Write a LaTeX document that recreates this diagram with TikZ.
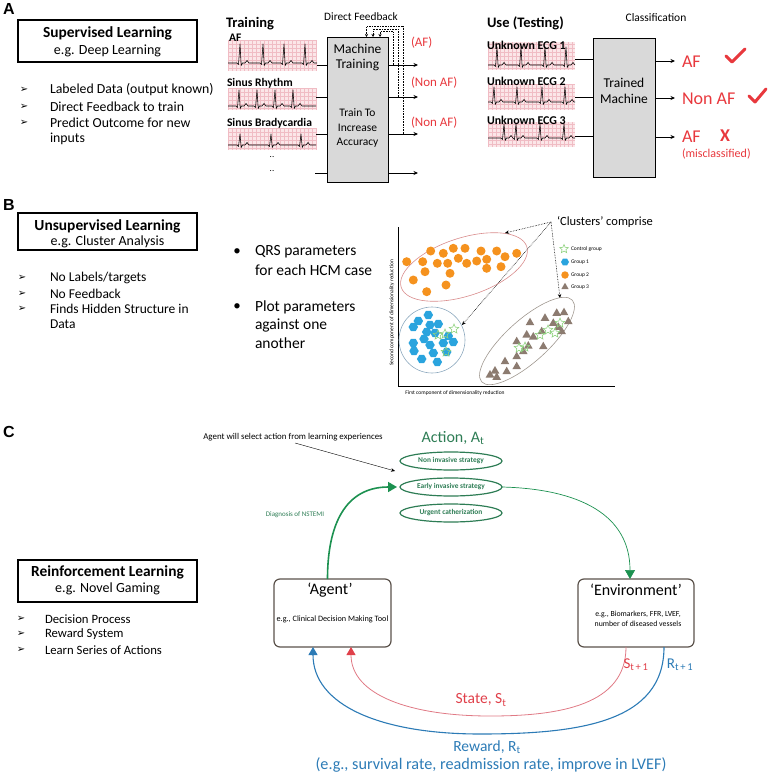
\documentclass[tikz,border=0pt]{standalone}
\usepackage{fontspec}
\setmainfont{Carlito}
\newfontfamily\arialf{Liberation Sans}
\newfontfamily\dejavu{DejaVu Sans}
\usetikzlibrary{shapes.geometric,arrows.meta,calc}
\newcommand\fsz[2]{\fontsize{#1}{#2}\selectfont}
\definecolor{redA}{HTML}{E8383D}
\definecolor{grayfill}{HTML}{D9D9D9}
\definecolor{ecgpink}{HTML}{FBE6E8}
\definecolor{ecggridc}{HTML}{F0BCC4}
\definecolor{orangeD}{HTML}{F5921E}
\definecolor{blueD}{HTML}{2AA4DE}
\definecolor{triG}{HTML}{8C7B70}
\definecolor{starG}{HTML}{8FD27F}
\definecolor{pinkE}{HTML}{D98C8C}
\definecolor{blueE}{HTML}{8EA9BF}
\definecolor{grayE}{HTML}{A09890}
\definecolor{greenT}{HTML}{2E7D55}
\definecolor{greenA}{HTML}{1C9150}
\definecolor{redC}{HTML}{E0404A}
\definecolor{redArc}{HTML}{E07A85}
\definecolor{blueC}{HTML}{2C7BB6}
\definecolor{boxC}{HTML}{5B524B}
\newcommand\ecgstrip[4]{\fill[ecgpink] (#1,#2) rectangle (#3,#4);
  \draw[ecggridc,line width=0.25pt] (#1,#2) grid[step=4pt] (#3,#4);}
\newcommand\ecgtrace[5]{\draw[ecgline] (#1,#3) \foreach \s in {#5}{ -- (\s-3,#3) -- (\s-1.5,#3+1.5) -- (\s,#3-#4) -- (\s+1.2,#3+2.5) -- (\s+2.5,#3) -- (\s+5,#3) -- (\s+7,#3-2.5) -- (\s+9,#3)} -- (#2,#3);}
\begin{document}
\begin{tikzpicture}[x=1pt,y=-1pt,
 every node/.style={inner sep=0pt,outer sep=0pt},
 panelbox/.style={draw,line width=1.5pt,minimum width=179pt,minimum height=42pt},
 ttl/.style={font=\fsz{15.4}{18}\bfseries},
 subt/.style={font=\fsz{14}{16}},
 bul/.style={font=\dejavu\fsz{10}{12}},
 btxt/.style={anchor=west,font=\fsz{13.8}{16}},
 btxtb/.style={anchor=west,font=\fsz{13.5}{15}},
 btxtc/.style={anchor=west,font=\fsz{12.7}{15}},
 plabel/.style={font=\arialf\bfseries\fsz{16}{18}},
 mbox/.style={draw,fill=grayfill,line width=0.8pt},
 mtxt/.style={font=\fsz{13.5}{16}},
 mtxs/.style={font=\fsz{11.5}{13}},
 ecglbl/.style={anchor=west,font=\bfseries\fsz{11.6}{13}},
 ecgline/.style={black,line width=0.55pt,line join=round},
 thinline/.style={black,line width=0.8pt},
 outarrow/.style={black,line width=0.8pt,-{Stealth[length=4.5pt,width=4pt]}},
 fbarrow/.style={black,line width=0.6pt,densely dotted,-{Stealth[length=3pt,width=3pt]}},
 redlbl/.style={anchor=west,text=redA,font=\fsz{13}{15}},
 bigred/.style={anchor=west,text=redA,font=\fsz{18}{20}},
 checkm/.style={redA,line width=3pt,line join=round,line cap=round},
 odot/.style={circle,fill=orangeD,minimum size=9pt},
 hdot/.style={regular polygon,regular polygon sides=6,fill=blueD,minimum size=9.5pt},
 tdot/.style={regular polygon,regular polygon sides=3,fill=triG,minimum size=10pt},
 sdot/.style={star,star points=5,star point ratio=2.2,draw=starG,line width=0.6pt,minimum size=10pt},
 legtxt/.style={anchor=west,font=\fsz{5.5}{6}},
 clarrow/.style={black,line width=0.6pt,densely dotted,-{Stealth[length=4pt,width=3.5pt]}},
 actell/.style={ellipse,draw=greenT,line width=1.2pt,minimum width=102pt,minimum height=18pt,text=greenT,font=\bfseries\fsz{7.4}{8}},
 rlbox/.style={draw=boxC,line width=1.2pt,rounded corners=6pt,minimum width=117pt,minimum height=68pt}
]
\useasboundingbox (0,0) rectangle (770,776);

% ================= Panel A =================
\node[plabel] (labA) at (9,9) {A};
\node[panelbox] (boxA) at (107.5,41) {};
\node[ttl] (ttlA) at (107.5,33) {Supervised Learning};
\node[subt] (subA) at (107.5,51) {e.g. Deep Learning};
\node[bul] (bA1) at (24,90) {➢};  \node[btxt] (tA1) at (50,90) {Labeled Data (output known)};
\node[bul] (bA2) at (24,107) {➢}; \node[btxt] (tA2) at (50,107) {Direct Feedback to train};
\node[bul] (bA3) at (24,123) {➢}; \node[btxt] (tA3) at (50,123) {Predict Outcome for new};
\node[btxt] (tA4) at (50,139) {inputs};

\node[anchor=west,font=\bfseries\fsz{14.5}{16}] (trn) at (226,24) {Training};
\ecgstrip{228}{40}{317}{71}
\ecgtrace{228}{317}{63}{19}{240,263,284,305}
\node[ecglbl] (ecgAF) at (229,38) {AF};
\ecgstrip{228}{88}{316}{110}
\ecgtrace{228}{316}{106}{16}{239,257,275,293}
\node[ecglbl] (ecgSR) at (227,83) {Sinus Rhythm};
\ecgstrip{228}{128}{316}{150}
\ecgtrace{228}{316}{145}{11}{240,271,301}
\node[ecglbl] (ecgSB) at (227,123) {Sinus Bradycardia};
\node[font=\fsz{9}{10}] (dd1) at (272,157) {..};
\node[font=\fsz{9}{10}] (dd2) at (272,171) {..};

\node[mbox,minimum width=61pt,minimum height=145pt] (mach) at (357.5,109.5) {};
\node[mtxt] (mt1) at (357.5,49) {Machine};
\node[mtxt] (mt2) at (357.5,65) {Training};
\node[mtxs] (mt3) at (357.5,113) {Train To};
\node[mtxs] (mt4) at (357.5,128) {Increase};
\node[mtxs] (mt5) at (357.5,143) {Accuracy};

\coordinate (inA1) at (317,65);  \draw[thinline] (inA1) -- (inA1 -| mach.west);
\coordinate (inA2) at (316,97);  \draw[thinline] (inA2) -- (inA2 -| mach.west);
\coordinate (inA3) at (316,134); \draw[thinline] (inA3) -- (inA3 -| mach.west);
\coordinate (inA4) at (315,173); \draw[thinline] (inA4) -- (inA4 -| mach.west);
\coordinate (outA1) at (418,65);  \draw[outarrow] (outA1 -| mach.east) -- (outA1);
\coordinate (outA2) at (418,97);  \draw[outarrow] (outA2 -| mach.east) -- (outA2);
\coordinate (outA3) at (418,134); \draw[outarrow] (outA3 -| mach.east) -- (outA3);
\coordinate (outA4) at (418,173); \draw[outarrow] (outA4 -| mach.east) -- (outA4);
\node[redlbl] (pAF) at (411,43) {(AF)};
\node[redlbl] (pN1) at (411,83) {(Non AF)};
\node[redlbl] (pN2) at (411,123) {(Non AF)};

\node[font=\fsz{11.3}{13}] (dfb) at (361,17) {Direct Feedback};
\coordinate (fbs1) at (393,65);  \coordinate (fbe1) at (380,37);
\coordinate (fbs2) at (398,97);  \coordinate (fbe2) at (373,37);
\coordinate (fbs3) at (403,134); \coordinate (fbe3) at (366.5,37);
\draw[fbarrow] (fbs1) -- (393,31.7) -- (380,31.7) -- (fbe1);
\draw[fbarrow] (fbs2) -- (398,29.3) -- (373,29.3) -- (fbe2);
\draw[fbarrow] (fbs3) -- (403,26.8) -- (366.5,26.8) -- (fbe3);

\node[anchor=west,font=\bfseries\fsz{14.5}{16}] (use) at (487,23) {Use (Testing)};
\node[font=\fsz{11.5}{13}] (cls) at (656,18) {Classification};
\ecgstrip{488}{42}{575}{70}
\ecgtrace{488}{575}{65}{18}{497,521,545,566}
\node[ecglbl,font=\bfseries\fsz{11.9}{13}] (u1) at (487,45) {Unknown ECG 1};
\ecgstrip{488}{84}{575}{110}
\ecgtrace{488}{575}{102}{15}{494,517,542,565}
\node[ecglbl,font=\bfseries\fsz{11.9}{13}] (u2) at (487,81) {Unknown ECG 2};
\ecgstrip{488}{122}{575}{147}
\ecgtrace{488}{575}{138}{14}{504,516,540,564}
\node[ecglbl,font=\bfseries\fsz{11.9}{13}] (u3) at (487,120) {Unknown ECG 3};

\node[mbox,minimum width=62pt,minimum height=139pt] (tmach) at (624,107.5) {};
\node[mtxt] (tm1) at (624,83) {Trained};
\node[mtxt] (tm2) at (624,99) {Machine};
\coordinate (inB1) at (575,59);  \draw[thinline] (inB1) -- (inB1 -| tmach.west);
\coordinate (inB2) at (575,97);  \draw[thinline] (inB2) -- (inB2 -| tmach.west);
\coordinate (inB3) at (575,136); \draw[thinline] (inB3) -- (inB3 -| tmach.west);
\coordinate (outB1) at (675,61);  \draw[outarrow] (outB1 -| tmach.east) -- (outB1);
\coordinate (outB2) at (675,98);  \draw[outarrow] (outB2 -| tmach.east) -- (outB2);
\coordinate (outB3) at (675,137); \draw[outarrow] (outB3 -| tmach.east) -- (outB3);
\node[bigred] (rAF1) at (682,62) {AF};
\node[bigred] (rN) at (682,99) {Non AF};
\node[bigred] (rAF2) at (682,137) {AF};
\node[text=redA,font=\bfseries\fsz{18}{20}] (xm) at (725,136) {X};
\node[redlbl,font=\fsz{12}{14}] (mis) at (682,154) {(misclassified)};
\draw[checkm] (726,56) -- (732,62) -- (745,49);
\draw[checkm] (749,96) -- (755,102) -- (766,89);

% ================= Panel B =================
\node[plabel] (labB) at (9,205) {B};
\node[panelbox,minimum height=37pt] (boxB) at (107.5,231.5) {};
\node[ttl] (ttlB) at (107.5,226) {Unsupervised Learning};
\node[subt] (subB) at (107.5,242) {e.g. Cluster Analysis};
\node[bul] (bB1) at (22,278) {➢}; \node[btxtb] (tB1) at (50,278) {No Labels/targets};
\node[bul] (bB2) at (22,294) {➢}; \node[btxtb] (tB2) at (50,294) {No Feedback};
\node[bul] (bB3) at (22,309) {➢}; \node[btxtb] (tB3) at (50,309) {Finds Hidden Structure in};
\node[btxtb] (tB4) at (50,324) {Data};

\node[font=\fsz{15}{17}] (dot1) at (237,252) {•};
\node[font=\fsz{15}{17}] (dot2) at (237,307) {•};
\node[anchor=west,font=\fsz{15.5}{18}] (q1) at (255,252) {QRS parameters};
\node[anchor=west,font=\fsz{15.5}{18}] (q2) at (255,270) {for each HCM case};
\node[anchor=west,font=\fsz{15.5}{18}] (q3) at (255,307) {Plot parameters};
\node[anchor=west,font=\fsz{15.5}{18}] (q4) at (255,325) {against one};
\node[anchor=west,font=\fsz{15.5}{18}] (q5) at (255,343) {another};

\coordinate (ax0) at (398,386); \coordinate (axy) at (398,227); \coordinate (axx) at (615,386);
\draw[black,line width=0.5pt] (axy) -- (ax0) -- (axx);
\node[rotate=90,font=\fsz{5.5}{6}] (ylab) at (392,313) {Second component of dimensionality reduction};
\node[font=\fsz{5.5}{6}] (xlab) at (455,393) {First component of dimensionality reduction};

\node[draw=pinkE,line width=0.6pt,ellipse,minimum width=132pt,minimum height=58pt,rotate=18] (ellO) at (464,267) {};
\node[draw=blueE,line width=0.6pt,circle,minimum size=66pt] (ellB) at (432,340) {};
\node[draw=grayE,line width=0.6pt,ellipse,minimum width=122pt,minimum height=42pt,rotate=42] (ellG) at (527,341) {};

\foreach \x/\y [count=\i] in {406.7/261.7, 422.7/261.7, 430.7/251, 443.3/253.3, 453.3/248.3, 465/248.3, 481/251, 496.7/251, 516.7/253.3, 437.3/263.3, 447.7/263.3, 458.3/258.3, 466.7/263.3, 476.7/261, 486.7/259.3, 505/256.7, 486.7/268.3, 501/266.7, 425/271.7, 450/273.3, 413.3/280, 446/285, 426.7/291.7}
  \node[odot] (or\i) at (\x,\y) {};
\foreach \x/\y [count=\i] in {428.3/315, 418.3/321, 413.3/327, 430/325, 438.3/324, 426.7/332, 435/333, 448.3/336, 424/339, 413.3/343, 414/351, 430/345, 433.3/353, 443.3/343, 453.3/342, 421.7/359, 437.3/362, 446.7/352}
  \node[hdot] (bh\i) at (\x,\y) {};
\foreach \x/\y [count=\i] in {530/322.7, 545/318.3, 556.7/313.3, 564/312.7, 568.3/321.7, 553.3/323.3, 558.3/327.3, 561.7/331.7, 541.7/331.7, 526.7/335, 533.3/337, 516.7/341.7, 528.3/346, 543.3/346.7, 523.3/351.7, 516.7/356.7, 505/361.7, 516.7/366.7, 495/371, 506.7/371.7, 490/375, 496.7/377.3}
  \node[tdot] (gt\i) at (\x,\y) {};
\foreach \x/\y [count=\i] in {438/335, 454/329, 445/334, 446/352, 560/323, 555/333, 540/335, 548/330, 525/347, 519/348}
  \node[sdot] (st\i) at (\x,\y) {};

\node[sdot,minimum size=9pt] (lg0) at (564,249) {};
\node[legtxt] (lt0) at (571,249) {Control group};
\node[hdot,minimum size=8pt] (lg1) at (565,262) {};
\node[legtxt] (lt1) at (571,262) {Group 1};
\node[odot,minimum size=7.5pt] (lg2) at (565,275) {};
\node[legtxt] (lt2) at (571,275) {Group 2};
\node[tdot,minimum size=8.5pt] (lg3) at (565,287) {};
\node[legtxt] (lt3) at (571,287) {Group 3};

\node[anchor=west,font=\fsz{12.5}{15}] (clu) at (557,222) {‘Clusters’ comprise};
\coordinate (cl0) at (551,222);
\coordinate (ct1) at (505,233);
\coordinate (ct2) at (462,325);
\coordinate (ct3) at (560,298);
\draw[clarrow] (cl0) -- (ct1);
\draw[clarrow] (cl0) -- (ct2);
\draw[clarrow] (cl0) -- (ct3);

% ================= Panel C =================
\node[plabel] (labC) at (9,432) {C};
\node[panelbox] (boxC) at (107.5,581) {};
\node[ttl] (ttlC) at (107.5,572) {Reinforcement Learning};
\node[subt] (subC) at (107.5,589) {e.g. Novel Gaming};
\node[bul] (bC1) at (21,619) {➢}; \node[btxtc] (tC1) at (45,619) {Decision Process};
\node[bul] (bC2) at (21,634) {➢}; \node[btxtc] (tC2) at (45,634) {Reward System};
\node[bul] (bC3) at (21,650) {➢}; \node[btxtc] (tC3) at (45,650) {Learn Series of Actions};

\node[font=\fsz{8.9}{10}] (awtxt) at (293,437) {Agent will select action from learning experiences};
\node[text=greenT,font=\fsz{16}{18}] (act) at (453,438) {Action, A\textsubscript{t}};
\node[actell] (e1) at (451,461) {Non invasive strategy};
\node[actell] (e2) at (451,487) {Early invasive strategy};
\node[actell] (e3) at (451,513) {Urgent catherization};
\coordinate (aw0) at (295,443);
\coordinate (aw1) at (395,471);
\draw[black,line width=0.4pt,-{Stealth[length=4pt,width=3.5pt]}] (aw0) -- (aw1);

\node[rlbox] (agent) at (332.5,613) {};
\node[font=\fsz{16}{18}] (agt) at (330,590) {‘Agent’};
\node[font=\fsz{8.2}{9}] (agd) at (332.5,619) {e.g., Clinical Decision Making Tool};
\node[rlbox,minimum width=116pt] (env) at (636,613) {};
\node[font=\fsz{16}{18}] (ent) at (636,590) {‘Environment’};
\node[font=\fsz{7.8}{10},align=center] (end) at (638,619) {e.g., Biomarkers, FFR, LVEF,\\number of diseased vessels};

\node[text=greenT,font=\fsz{7}{8}] (diag) at (295,515) {Diagnosis of NSTEMI};
\draw[greenA,line width=1.6pt,-{Triangle[length=9pt,width=10pt]}] ($(agent.north)+(-5,0)$) .. controls (327.5,525) and (345,487) .. ($(e2.west)+(-3,0)$);
\draw[greenA,line width=0.7pt,-{Triangle[length=9pt,width=10pt]}] (e2.east) .. controls (580,489) and (630,515) .. ($(env.north)+(-6,0)$);

\coordinate (rs) at ($(env.south)+(-10,0)$);
\coordinate (re) at ($(agent.south)+(18.5,0)$);
\coordinate (bs) at ($(env.south)+(28,0)$);
\coordinate (be) at ($(agent.south)+(-19.5,0)$);
\draw[redArc,line width=0.8pt,-{Triangle[length=8pt,width=9pt,color=redC]}] (rs) .. controls (626,705) and (560,716) .. (490,716) .. controls (410,716) and (351,695) .. (re);
\draw[blueC,line width=1.1pt,-{Triangle[length=8pt,width=9pt]}] (bs) .. controls (664,722) and (580,734) .. (480,734) .. controls (380,734) and (313,705) .. (be);

\node[text=redC,font=\fsz{15}{17}] (st1) at (636,665) {S\textsubscript{t\,+\,1}};
\node[text=blueC,font=\fsz{15}{17}] (rt1) at (680,665) {R\textsubscript{t\,+\,1}};
\node[text=redC,font=\fsz{15.5}{17}] (stt) at (481,700) {State, S\textsubscript{t}};
\node[text=blueC,font=\fsz{15.5}{17}] (rwt) at (487,747) {Reward, R\textsubscript{t}};
\node[text=blueC,font=\fsz{16.2}{18}] (rwd) at (491,765) {(e.g., survival rate, readmission rate, improve in LVEF)};
\end{tikzpicture}
\end{document}
